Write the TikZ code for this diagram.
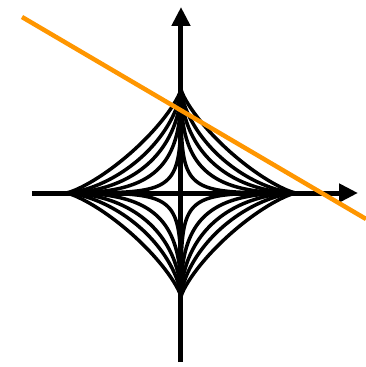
\documentclass[tikz,border=0pt]{standalone}
\usepackage{tikz}
\usetikzlibrary{arrows.meta}
\usepackage{xcolor}
\definecolor{hyperline}{RGB}{255,150,0}

\tikzset{
  axis/.style={line width=5pt, -{Triangle[length=19pt, width=18pt]}},
  ball/.style={line width=3.5pt, line join=round},
}

\begin{document}
\begin{tikzpicture}[x=1pt, y=1pt]
\useasboundingbox (-181,-174) rectangle (185,193);
\def\Rx{115}
\def\Ry{104}
% unit balls |x|^p + |y|^p = 1 for p < 1
\foreach \p in {0.33,0.45,0.55,0.65,0.78}{
    \draw[ball] plot[domain=0.25:360.25, samples=721]
        ({\Rx*cos(\x)*pow(abs(cos(\x)),2/\p-1)}, {\Ry*sin(\x)*pow(abs(sin(\x)),2/\p-1)});
}
\coordinate (xmin) at (-149,0);
\coordinate (xmax) at (177,0);
\coordinate (ymin) at (0,-169);
\coordinate (ymax) at (0,186);
\draw[axis] (xmin) -- (xmax);
\draw[axis] (ymin) -- (ymax);
% separating line
\coordinate (lstart) at (-159,176);
\coordinate (lend) at (185,-26);
\draw[hyperline, line width=4.5pt] (lstart) -- (lend);
\end{tikzpicture}
\end{document}
